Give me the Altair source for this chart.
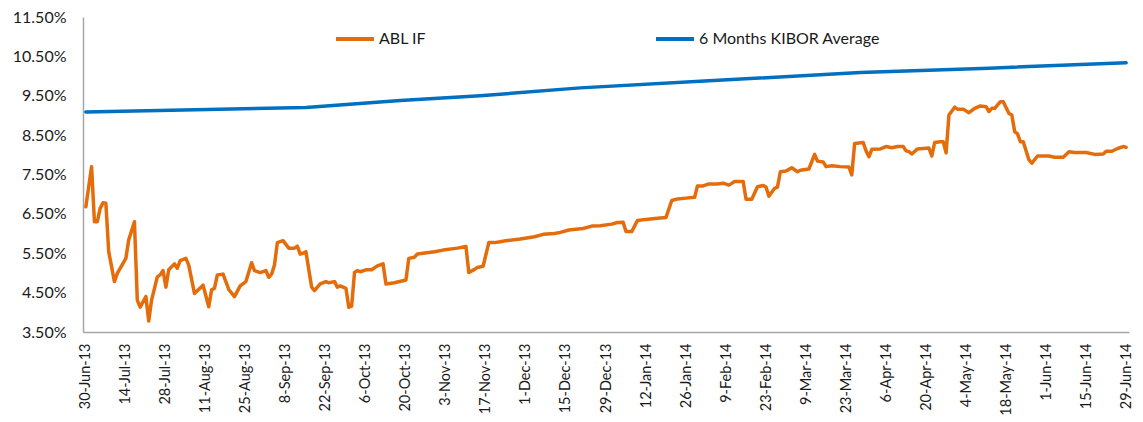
import altair as alt
import pandas as pd

# ---- data ----
series_names = ["ABL IF", "6 Months KIBOR Average"]
series_colors = ["#E46C0A", "#0070C0"]

# ABL IF: days after 30-Jun-13 and yield (%)
abl_days = [0, 2, 3, 4, 5, 6, 7, 8, 10, 11, 14, 15, 17, 18, 19, 21, 22, 23, 25, 26,
            27, 28, 29, 31, 32, 33, 35, 36, 38, 41, 43, 44, 45, 46, 48, 50, 52, 54, 56, 58,
            59, 61, 63, 64, 65, 66, 67, 69, 71, 73, 74, 75, 76, 77, 79, 80, 82, 84, 85, 87,
            88, 89, 91, 92, 93, 94, 95, 96, 98, 100, 102, 104, 105, 108, 112, 113, 115, 116, 118, 122,
            125, 130, 133, 134, 136, 137, 139, 141, 143, 145, 147, 152, 157, 160, 164, 166, 169, 174, 177, 180,
            184, 186, 188, 189, 191, 193, 196, 200, 203, 205, 207, 210, 213, 214, 216, 218, 221, 223, 225, 227,
            230, 231, 233, 235, 237, 238, 239, 241, 242, 243, 245, 246, 247, 249, 250, 253, 255, 256, 258, 259,
            261, 264, 267, 268, 269, 272, 273, 274, 275, 278, 280, 282, 284, 286, 287, 288, 289, 291, 295, 296,
            297, 299, 300, 301, 302, 304, 305, 307, 309, 311, 313, 315, 316, 317, 318, 320, 321, 323, 324, 325,
            326, 327, 328, 330, 331, 333, 337, 339, 342, 344, 346, 350, 353, 356, 357, 359, 361, 363, 364]
abl_values = [6.68, 7.70, 6.30, 6.30, 6.64, 6.78, 6.77, 5.54, 4.78, 4.99, 5.37, 5.84, 6.30, 4.31, 4.13, 4.40, 3.78, 4.31, 4.90, 4.95,
              5.06, 4.64, 5.08, 5.23, 5.12, 5.31, 5.37, 5.20, 4.48, 4.69, 4.14, 4.57, 4.61, 4.95, 4.97, 4.58, 4.40, 4.67, 4.78, 5.26,
              5.06, 5.01, 5.06, 4.89, 4.97, 5.20, 5.77, 5.82, 5.63, 5.63, 5.68, 5.48, 5.50, 5.54, 4.64, 4.55, 4.72, 4.78, 4.75, 4.78,
              4.64, 4.67, 4.61, 4.13, 4.16, 5.01, 5.06, 5.03, 5.08, 5.08, 5.18, 5.23, 4.72, 4.75, 4.82, 5.37, 5.40, 5.48, 5.50, 5.54,
              5.58, 5.63, 5.67, 5.01, 5.09, 5.14, 5.17, 5.77, 5.77, 5.79, 5.82, 5.86, 5.92, 5.98, 6.00, 6.03, 6.09, 6.13, 6.19, 6.20,
              6.24, 6.28, 6.29, 6.05, 6.05, 6.33, 6.36, 6.39, 6.41, 6.84, 6.88, 6.90, 6.92, 7.21, 7.21, 7.26, 7.26, 7.28, 7.23, 7.32,
              7.32, 6.87, 6.87, 7.19, 7.22, 7.18, 6.95, 7.15, 7.18, 7.57, 7.59, 7.63, 7.67, 7.57, 7.61, 7.64, 8.01, 7.84, 7.82, 7.70,
              7.72, 7.70, 7.69, 7.49, 8.29, 8.31, 8.10, 7.95, 8.14, 8.15, 8.21, 8.18, 8.21, 8.21, 8.10, 8.08, 8.02, 8.15, 8.17, 7.97,
              8.31, 8.33, 8.33, 8.05, 9.01, 9.21, 9.16, 9.16, 9.07, 9.18, 9.24, 9.22, 9.10, 9.18, 9.18, 9.35, 9.35, 9.05, 9.01, 8.59,
              8.53, 8.33, 8.33, 7.87, 7.79, 7.97, 7.97, 7.94, 7.94, 8.08, 8.06, 8.06, 8.01, 8.02, 8.09, 8.09, 8.16, 8.21, 8.19]

# 6 Months KIBOR Average
kibor_dates = ["2013-06-30", "2013-09-15", "2013-10-18", "2013-11-15", "2013-12-20",
               "2014-02-03", "2014-03-28", "2014-05-12", "2014-06-29"]
kibor_values = [9.09, 9.20, 9.38, 9.50, 9.70, 9.88, 10.09, 10.20, 10.34]

# axis ticks
tick_dates = ["2013-06-30", "2013-07-14", "2013-07-28", "2013-08-11", "2013-08-25", "2013-09-08",
              "2013-09-22", "2013-10-06", "2013-10-20", "2013-11-03", "2013-11-17", "2013-12-01",
              "2013-12-15", "2013-12-29", "2014-01-12", "2014-01-26", "2014-02-09", "2014-02-23",
              "2014-03-09", "2014-03-23", "2014-04-06", "2014-04-20", "2014-05-04", "2014-05-18",
              "2014-06-01", "2014-06-15", "2014-06-29"]
y_ticks = [3.5, 4.5, 5.5, 6.5, 7.5, 8.5, 9.5, 10.5, 11.5]

# ---- table ----
start = pd.Timestamp("2013-06-30")
abl_dates = [(start + pd.Timedelta(days=d)).strftime("%Y-%m-%d") for d in abl_days]
df = pd.DataFrame({
    "date": abl_dates + kibor_dates,
    "value": abl_values + kibor_values,
    "series": [series_names[0]] * len(abl_values) + [series_names[1]] * len(kibor_values),
})


def dt(s):
    y, m, d = (int(p) for p in s.split("-"))
    return alt.DateTime(year=y, month=m, date=d, utc=True)


FONT = "Lato"
TXT = "#1a1a1a"

chart = alt.Chart(df).mark_line(strokeWidth=3.5, strokeCap="round", strokeJoin="round").encode(
    x=alt.X("date:T",
            scale=alt.Scale(type="utc", domain=[dt("2013-06-29"), dt("2014-06-30")]),
            axis=alt.Axis(title=None, values=[dt(s) for s in tick_dates],
                          labelExpr="utcFormat(datum.value, '%-d-%b-%y')",
                          labelAngle=-90, labelAlign="right", labelBaseline="middle",
                          labelFontSize=14.5,
                          labelPadding=11, labelFlush=False, labelOverlap=False)),
    y=alt.Y("value:Q",
            scale=alt.Scale(domain=[3.5, 11.5], nice=False, zero=False),
            axis=alt.Axis(title=None, values=y_ticks, labelExpr="format(datum.value, '.2f') + '%'",
                          labelPadding=17, labelOverlap=False)),
    color=alt.Color("series:N",
                    scale=alt.Scale(domain=series_names, range=series_colors),
                    legend=alt.Legend(title=None, orient="none", legendX=251, legendY=1,
                                      direction="horizontal", symbolType="stroke", symbolSize=1444,
                                      symbolStrokeWidth=4, labelFontSize=16, labelFont=FONT,
                                      labelColor=TXT, labelLimit=400, columnPadding=221,
                                      labelOffset=3, padding=0)),
    order=alt.Order("date:T"),
).properties(
    width=1046, height=315,
    autosize=alt.AutoSizeParams(type="none"),
    padding={"left": 75, "top": 9, "right": 6, "bottom": 90},
).configure_view(
    stroke=None
).configure_axis(
    grid=False, ticks=False, tickSize=0,
    domainColor="#a6a6a6", domainWidth=1.5,
    labelFont=FONT, labelFontSize=16, labelColor=TXT,
)

chart.save("out.html", embed_options={"renderer": "svg", "actions": False})
